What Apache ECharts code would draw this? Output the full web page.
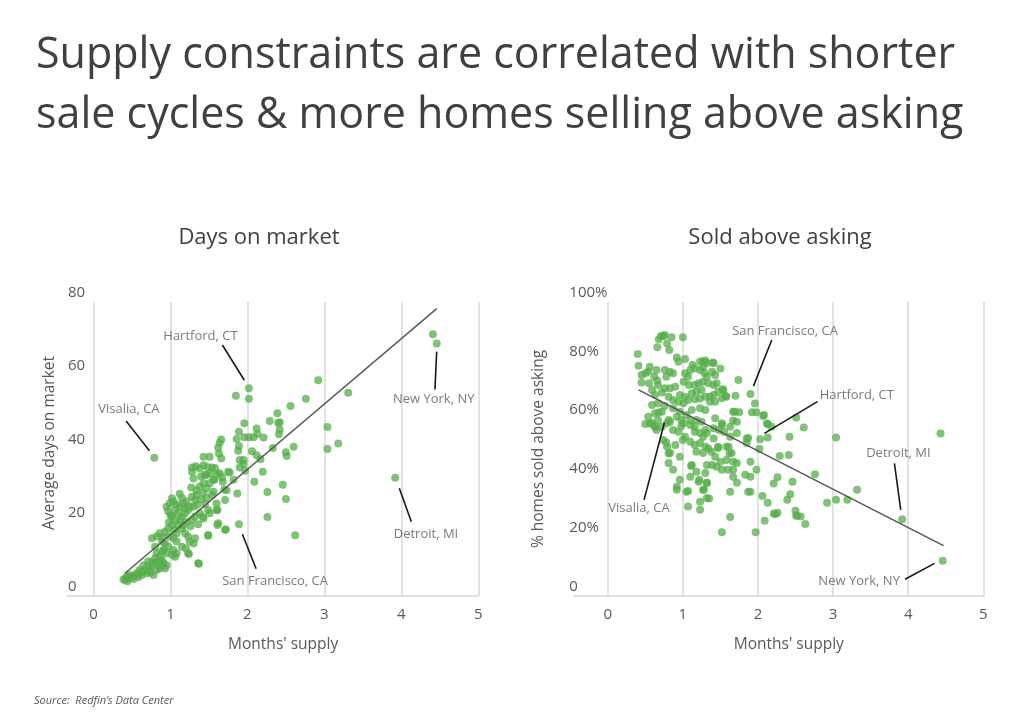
<!DOCTYPE html>
<html><head><meta charset="utf-8">
<script src="https://cdn.jsdelivr.net/npm/echarts@6/dist/echarts.min.js"></script>
<style>html,body{margin:0;padding:0;background:#fff}#c{width:1024px;height:715px}</style>
</head><body><div id="c"></div>
<script>
const FONT = '"Open Sans", "Noto Sans", sans-serif';
const titleLines = ['Supply constraints are correlated with shorter', 'sale cycles & more homes selling above asking'];
const panelTitles = ['Days on market', 'Sold above asking'];
const xName = "Months' supply";
const leftYName = 'Average days on market';
const rightYName = '% homes sold above asking';
const sourceText = 'Source:  Redfin\u2019s Data Center';
const xTicks = [0, 1, 2, 3, 4, 5];

// Days on market vs months' supply
const leftPoints = [
[0.41,4.4],[0.45,4.8],[0.50,5.3],[0.54,5.5],[0.58,5.1],[0.63,5.7],[0.67,7.1],[0.71,8.0],[0.76,8.4],[0.80,8.9],[0.84,9.3],[0.89,9.8],[0.91,8.9],[0.86,7.5],[0.78,5.7],[0.69,6.2],[0.73,7.1],[0.82,7.1],[0.93,7.5],[0.95,8.4],[0.80,10.3],[0.76,9.4],[0.71,9.4],[0.65,8.4],[0.60,7.1],[0.56,6.2],[0.47,5.7],[0.43,5.3],[0.39,4.5],[0.44,4.0],[0.52,4.6],[0.62,6.5],[0.74,6.3],[0.88,8.2],
[0.86,10.7],[0.89,12.1],[0.91,12.5],[0.82,11.6],[0.95,11.6],[1.02,11.2],[1.06,10.7],[1.08,11.6],[1.04,12.5],[0.97,13.4],[0.93,14.3],[0.89,14.8],[0.80,13.4],[0.76,15.7],[0.82,16.2],[0.86,17.1],[0.93,17.5],[0.97,18.4],[1.02,19.3],[1.06,20.7],[1.02,21.6],[0.97,23.0],[0.95,24.3],[0.99,25.2],[1.04,25.7],[1.08,24.8],[1.12,24.3],[1.17,25.2],[1.15,26.6],[1.02,26.6],[1.06,23.4],[1.10,22.5],[1.15,21.6],[1.19,22.5],[1.23,23.4],[1.25,24.3],[1.21,25.7],[1.30,24.3],[1.32,26.1],[1.28,27.0],[1.34,27.5],[1.10,19.3],[1.15,18.4],[1.19,17.1],[1.23,16.2],[1.25,14.8],[1.30,14.3],[1.32,15.7],[1.23,11.6],[1.15,13.4],[1.08,14.8],[1.04,15.7],[0.99,16.2],[1.08,17.1],[1.17,19.3],[1.21,20.2],[1.28,20.7],[1.32,21.6],[1.38,22.5],[1.43,21.1],[1.49,16.6],[1.51,22.5],[1.60,23.4],[1.62,19.8],[1.71,18.0],[1.36,8.9],[1.38,29.8],[1.43,30.7],[1.47,29.3],[1.51,30.7],[1.56,31.6],[1.64,33.4],[1.40,32.5],[1.28,33.8],[1.30,32.0],[1.34,28.8],[1.43,28.0],[1.56,28.4],[1.60,25.2],
[1.00,22.0],[1.13,20.5],[1.26,19.0],[1.12,27.8],[1.18,23.8],[1.35,24.8],[1.40,26.3],[1.27,29.5],[1.45,33.0],[0.98,20.0],[1.05,18.0],[1.20,13.0],[0.90,16.0],[1.36,19.5],[1.45,25.0],
[1.28,35.0],[1.33,35.3],[1.38,34.7],[1.43,35.6],[1.48,35.1],[1.54,35.0],[1.58,34.8],[1.47,32.9],[1.52,33.5],[1.75,33.8],[1.67,32.3],[1.43,37.9],[1.51,37.9],[1.66,42.6],[1.64,41.7],[1.62,40.4],[1.63,38.8],[1.66,37.4],[1.86,42.7],[1.89,40.8],[1.88,39.5],[1.96,47.0],[1.89,44.7],[2.12,45.6],[2.13,44.1],[2.29,47.6],[2.39,49.7],[2.40,47.1],[2.02,43.2],[2.08,43.2],[1.96,43.2],[2.21,43.1],[2.06,39.4],[2.12,38.3],[2.17,37.2],[1.95,37.0],[1.90,37.0],[2.20,33.8],
[4.41,71.2],[4.46,68.7],[3.92,32.2],[0.79,37.6],[2.92,58.7],[3.31,55.3],[2.76,53.7],[2.56,51.7],[2.42,47.3],[2.42,45.3],[2.41,44.0],[3.04,46.0],[3.04,40.0],[3.18,41.5],[2.60,40.6],[2.50,39.1],[2.51,38.1],[2.33,40.3],[2.02,56.5],[2.02,53.7],[1.85,54.5],[1.95,35.9],[1.90,35.0],[1.97,34.1],[1.77,33.6],[2.09,31.1],[1.87,27.9],[2.26,28.3],[2.46,30.3],[2.50,26.4],[2.26,21.5],[1.89,19.5],[2.62,16.5],
[1.72,18.1],[1.61,19.3],[1.49,16.4],[1.37,8.8],[1.24,11.4],[1.71,26.1],[1.73,28.8],[1.82,31.6],[1.61,23.4],[1.54,27.5],[1.47,26.7],[1.49,23.4],[1.42,21.6],[1.57,31.6],[1.68,31.1],[1.70,29.0],[1.61,33.2]
];

// Share sold above asking (%) vs months' supply
const rightPoints = [
[4.43,55.3],[4.46,12.0],[3.92,26.1],[3.04,53.9],[3.32,36.1],[3.19,32.7],[3.04,32.7],[2.92,31.7],[2.76,41.4],[2.61,57.3],[2.51,60.7],[2.42,54.2],[2.41,48.0],[2.29,47.6],[2.46,38.9],[2.43,34.6],[2.39,32.7],[2.26,40.4],[2.21,38.3],[2.26,28.3],[2.21,28.1],[2.50,29.0],[2.51,27.4],[2.57,27.0],[2.63,24.5],[2.09,25.6],[2.13,31.7],[2.06,34.0],[1.97,21.7],[1.52,21.7],[1.63,26.9],[1.63,35.5],[1.72,38.5],[1.67,40.6],[1.87,35.5],[1.90,35.5],[1.90,40.6],[1.98,42.9],[1.90,45.7],[2.02,50.0],[2.03,53.3],[1.85,53.6],[2.13,53.9],[2.13,58.5],[2.18,57.6],[2.08,61.6],[1.96,65.5],[1.90,68.7],[1.92,62.5],[1.98,62.5],[1.75,62.5],[1.69,62.7],[1.74,73.5],[1.70,68.1],[1.57,68.0],[1.53,70.3],[1.50,77.4],[1.40,79.4],[1.39,76.3],[1.27,79.8],[1.23,79.8],[1.27,77.8],[1.00,88.0],[0.85,88.0],[0.74,88.4],[0.71,88.4],[0.68,87.3],[0.66,84.6],[0.79,85.9],[0.82,83.7],[0.40,82.3],[0.41,78.3],[0.92,81.1],[1.03,80.6],
[0.76,88.8],[0.50,75.8],[0.45,75.2],[0.54,76.3],[0.56,78.0],[0.65,76.9],[0.62,74.6],[0.55,72.4],[0.45,72.6],[0.66,73.3],[0.76,76.9],[0.83,76.3],[0.87,75.8],[0.78,74.6],[0.94,79.7],[1.13,78.6],[1.10,76.9],[1.16,77.5],[1.23,76.9],[1.30,80.1],[1.03,75.8],[1.07,74.6],[1.01,72.9],[1.08,71.8],[1.16,71.8],[1.21,72.4],[1.27,72.9],[1.32,74.6],[1.25,70.1],[1.18,69.5],[1.12,69.0],[1.03,67.8],[0.96,68.4],[0.90,71.2],[0.83,70.7],[0.76,70.7],[0.67,71.8],[0.59,70.1],[0.63,68.4],[0.72,69.2],[0.81,67.8],[0.87,66.7],[0.94,66.1],[1.01,65.6],[1.07,66.7],[1.16,66.9],[1.23,67.2],[1.30,67.8],[1.23,63.9],[1.30,63.3],[0.59,65.0],[0.67,65.6],[0.76,64.7],[0.54,61.0],[0.63,62.2],[0.72,62.7],[0.56,58.7],[0.67,59.9],[0.81,59.9],[0.92,61.0],[0.98,59.9],[1.05,61.6],[1.12,63.3],[0.96,62.7],[0.87,63.9],[1.10,59.9],[1.18,59.9],[1.25,59.3],[0.62,57.8],[0.72,57.6],[0.98,57.8],[1.16,57.6],
[1.32,79.2],[1.41,79.2],[1.43,75.2],[1.29,75.8],[1.34,72.4],[1.41,71.8],[1.45,72.4],[1.54,70.1],[1.47,69.5],[1.41,68.4],[1.36,67.8],[1.36,66.1],[1.43,66.1],[1.52,67.3],[1.58,67.8],[1.67,62.7],[1.43,60.5],[1.52,58.2],[1.67,59.7],[1.72,59.3],[1.63,57.6],[2.07,61.2],[2.12,58.7],
[0.50,58.5],[0.59,58.8],[0.65,56.5],[0.79,58.8],[0.83,59.3],[0.87,56.5],[0.94,55.9],[1.01,58.8],[1.10,58.2],[1.16,55.9],[1.23,55.4],[1.30,56.5],[0.74,53.1],[0.79,50.8],[0.83,48.6],[0.90,51.4],[1.00,53.1],[1.03,54.2],[1.10,52.5],[1.16,51.4],[1.23,52.0],[1.30,50.8],[1.18,49.1],[1.27,48.6],[0.81,45.2],[0.87,42.9],[0.96,47.4],[1.12,44.6],[1.18,42.3],[1.30,41.8],[1.21,38.9],[0.96,39.5],[1.10,40.6],[0.92,36.1],[1.05,35.5],[1.27,36.1],[1.23,32.1],[1.07,30.4],[1.23,29.3],[1.32,33.3],
[1.27,54.2],[1.32,55.4],[1.41,57.1],[1.52,58.8],[1.72,55.4],[1.87,53.7],[1.85,52.0],[1.38,49.1],[1.47,50.3],[1.58,50.8],[1.65,48.6],[1.72,45.2],[1.67,42.9],[1.83,41.2],[1.32,38.4],[2.23,27.8],[2.52,27.3],
[0.68,62.4],[0.64,57.4],[0.78,52.2],[0.81,48.5],[0.92,37.2],[1.07,35.7],[1.35,33.2],[1.28,36.1],[1.32,38.5],[1.22,39.5],[1.11,44.2],
[1.41,53.6],[1.47,50.8],[1.34,50.2],[1.61,50.8],[1.62,48.5],[1.67,45.7],[1.58,46.3],[1.50,45.7],[1.43,47.4],[1.32,44.6],[1.39,44.6],[1.45,44.0],[1.52,42.9],[1.60,42.9],[1.55,55.8],[1.63,54.2],[1.48,56.5]
];

const leftTrend = [[0.41, 6.2], [4.46, 78.2]];
const rightTrend = [[0.41, 70.1], [4.47, 17.1]];

const leftLabels = ['Hartford, CT', 'Visalia, CA', 'New York, NY', 'Detroit, MI', 'San Francisco, CA'];
const leftLabelAt = [[1.39, 70.7], [0.46, 50.8], [4.42, 53.5], [4.32, 16.9], [2.36, 3.9]];
const leftLeaders = [[[1.675, 68.3], [1.96, 58.7]], [[0.424, 47.6], [0.727, 39.5]], [[4.459, 66.5], [4.437, 56.2]], [[3.974, 29.3], [4.13, 20.2]], [[1.935, 16.8], [2.113, 7.4]]];

const rightLabels = ['San Francisco, CA', 'Hartford, CT', 'Detroit, MI', 'New York, NY', 'Visalia, CA'];
const rightLabelAt = [[2.361, 89.9], [3.316, 68.1], [3.87, 48.5], [3.347, 4.9], [0.417, 29.8]];
const rightLeaders = [[[2.184, 87.1], [1.94, 71.4]], [[2.792, 66.1], [2.086, 55.3]], [[3.817, 45.1], [3.901, 29.3]], [[3.959, 5.7], [4.35, 11.1]], [[0.484, 32.7], [0.755, 59.0]]];

const GRID = '#d9d9d9', TXT = '#595959', DOT = '#55ad49';

function xAxisCfg(gi, min) {
  return {
    gridIndex: gi, type: 'value', min: min, max: 5,
    axisLine: { show: true, onZero: false, lineStyle: { color: GRID, width: 1.5 } },
    axisTick: { show: false, customValues: xTicks },
    axisLabel: { customValues: xTicks, color: TXT, fontSize: 15, fontFamily: FONT, margin: 11 },
    splitLine: { show: true, lineStyle: { color: GRID, width: 1.5 } },
    name: xName, nameLocation: 'middle', nameGap: 41,
    nameTextStyle: { color: TXT, fontSize: 15.5, fontFamily: FONT, padding: [0, 0, 0, 21] }
  };
}
function yAxisCfg(gi, max, fmt, margin, name, gap, pad) {
  return {
    gridIndex: gi, type: 'value', min: 0, max: max, interval: 20,
    axisLine: { show: false, onZero: false }, axisTick: { show: false }, splitLine: { show: false },
    axisLabel: { align: 'left', margin: margin, verticalAlign: 'bottom', lineHeight: 15, padding: [0, 0, 2, 0],
      color: TXT, fontSize: 15, fontFamily: FONT, formatter: fmt },
    name: name, nameLocation: 'middle', nameGap: gap, nameRotate: 90,
    nameTextStyle: { color: TXT, fontSize: 15.5, fontFamily: FONT, padding: pad }
  };
}
function panelSeries(gi, pts, trend, labels, labelAt, leaders) {
  return [
    { type: 'scatter', xAxisIndex: gi, yAxisIndex: gi, data: pts, symbolSize: 8,
      itemStyle: { color: DOT, opacity: 0.75 }, z: 2 },
    { type: 'line', xAxisIndex: gi, yAxisIndex: gi, data: trend, showSymbol: false, symbol: 'none',
      lineStyle: { color: '#555555', width: 1.4 }, z: 3 },
    { type: 'lines', coordinateSystem: 'cartesian2d', xAxisIndex: gi, yAxisIndex: gi,
      data: leaders.map(c => ({ coords: c })), lineStyle: { color: '#1a1a1a', width: 1.6, opacity: 1 }, z: 4 },
    { type: 'scatter', xAxisIndex: gi, yAxisIndex: gi, symbolSize: 1, itemStyle: { color: 'rgba(0,0,0,0)' },
      data: labelAt.map((p, i) => ({ value: p, name: labels[i] })),
      label: { show: true, position: 'inside', formatter: '{b}', color: TXT, fontSize: 13, fontFamily: FONT }, z: 5 }
  ];
}

const chart = echarts.init(document.getElementById('c'));
chart.setOption({
  animation: false,
  backgroundColor: '#ffffff',
  title: { text: titleLines.join('\n'), left: 31, top: 21,
    textStyle: { fontSize: 43, fontWeight: 'normal', color: '#404040', fontFamily: FONT, lineHeight: 60 } },
  grid: [
    { left: 67, top: 302, width: 411.3, height: 294 },
    { left: 573.3, top: 302, width: 410, height: 294 }
  ],
  xAxis: [xAxisCfg(0, -0.344), xAxisCfg(1, -0.458)],
  yAxis: [
    yAxisCfg(0, 80, v => String(v), -1, leftYName, 9, [0, 0, 0, 12]),
    yAxisCfg(1, 100, v => (v === 0 ? '0' : v + '%'), 4, rightYName, 27, [0, 0, 0, 0])
  ],
  graphic: [
    { type: 'text', x: 259, y: 238, style: { text: panelTitles[0], align: 'center', verticalAlign: 'middle', textAlign: 'center', textVerticalAlign: 'middle', fontSize: 22, fontFamily: FONT, fill: '#404040' } },
    { type: 'text', x: 780, y: 238, style: { text: panelTitles[1], align: 'center', verticalAlign: 'middle', textAlign: 'center', textVerticalAlign: 'middle', fontSize: 22, fontFamily: FONT, fill: '#404040' } },
    { type: 'text', x: 34, y: 701, style: { text: sourceText, verticalAlign: 'middle', textVerticalAlign: 'middle', fontSize: 11, fontStyle: 'italic', fontFamily: FONT, fill: TXT } }
  ],
  series: [].concat(
    panelSeries(0, leftPoints, leftTrend, leftLabels, leftLabelAt, leftLeaders),
    panelSeries(1, rightPoints, rightTrend, rightLabels, rightLabelAt, rightLeaders)
  )
});
</script>
</body></html>
